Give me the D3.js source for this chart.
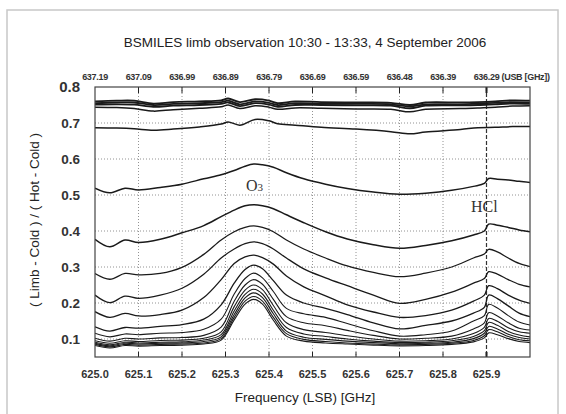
<!DOCTYPE html>
<html><head><meta charset="utf-8">
<script src="https://cdn.jsdelivr.net/npm/d3@7"></script>
<style>body{margin:0;background:#fff}svg{display:block}</style>
</head><body>
<script>
// ---------- data ----------
const xTicks = [625.0,625.1,625.2,625.3,625.4,625.5,625.6,625.7,625.8,625.9];
const xTickLabels = ["625.0","625.1","625.2","625.3","625.4","625.5","625.6","625.7","625.8","625.9"];
const usbLabels = ["637.19","637.09","636.99","636.89","636.79","636.69","636.59","636.48","636.39","636.29"];
const yTicks = [0.1,0.2,0.3,0.4,0.5,0.6,0.7,0.8];

const topFreq = [625.00,625.05,625.09,625.134,625.18,625.24,625.29,625.306,625.333,625.368,625.40,625.42,625.46,625.52,625.60,625.68,625.724,625.76,625.84,625.88,625.92,625.96,626.00];
const topT1 = [0.760,0.762,0.762,0.754,0.758,0.760,0.763,0.768,0.758,0.766,0.762,0.755,0.760,0.758,0.757,0.756,0.750,0.757,0.757,0.758,0.760,0.763,0.762];
const topT2 = [0.755,0.757,0.757,0.750,0.753,0.755,0.758,0.762,0.752,0.760,0.756,0.750,0.755,0.754,0.753,0.752,0.746,0.752,0.752,0.754,0.756,0.758,0.757];
const topT3 = [0.751,0.752,0.751,0.745,0.748,0.750,0.753,0.757,0.747,0.755,0.751,0.745,0.750,0.750,0.749,0.748,0.741,0.748,0.749,0.750,0.752,0.754,0.753];
const topT4 = [0.744,0.743,0.740,0.733,0.737,0.741,0.745,0.750,0.740,0.748,0.744,0.738,0.742,0.741,0.739,0.738,0.731,0.738,0.740,0.742,0.744,0.747,0.748];
const topT5 = [0.687,0.686,0.684,0.680,0.683,0.689,0.697,0.703,0.694,0.710,0.706,0.698,0.694,0.688,0.683,0.676,0.670,0.675,0.682,0.687,0.688,0.690,0.690];

const freq = [625.00,625.034,625.069,625.10,625.15,625.20,625.25,625.29,625.32,625.345,625.365,625.385,625.41,625.44,625.48,625.53,625.58,625.64,625.70,625.76,625.82,625.87,625.895,625.905,625.925,625.95,625.975,626.00];
const c1  = [0.519,0.506,0.519,0.514,0.521,0.530,0.545,0.556,0.568,0.580,0.586,0.584,0.577,0.562,0.545,0.530,0.518,0.508,0.502,0.505,0.513,0.524,0.532,0.546,0.544,0.542,0.538,0.535];
const c2  = [0.377,0.356,0.375,0.368,0.377,0.395,0.415,0.440,0.458,0.470,0.473,0.470,0.462,0.445,0.423,0.398,0.378,0.362,0.352,0.360,0.373,0.389,0.400,0.419,0.416,0.410,0.403,0.398];
const c3  = [0.282,0.266,0.282,0.278,0.282,0.299,0.335,0.375,0.398,0.410,0.414,0.410,0.398,0.375,0.350,0.325,0.303,0.285,0.273,0.283,0.300,0.325,0.336,0.349,0.342,0.325,0.310,0.301];
const c4  = [0.222,0.201,0.219,0.213,0.222,0.241,0.280,0.325,0.350,0.365,0.370,0.365,0.350,0.325,0.295,0.270,0.248,0.222,0.199,0.210,0.230,0.255,0.268,0.287,0.280,0.265,0.252,0.245];
const c5  = [0.176,0.160,0.171,0.164,0.168,0.180,0.215,0.265,0.310,0.328,0.333,0.326,0.308,0.275,0.245,0.220,0.195,0.175,0.160,0.165,0.180,0.205,0.222,0.248,0.240,0.222,0.208,0.199];
const c6  = [0.134,0.122,0.132,0.130,0.135,0.140,0.155,0.195,0.255,0.293,0.305,0.295,0.262,0.222,0.200,0.185,0.168,0.145,0.128,0.138,0.150,0.172,0.188,0.222,0.212,0.192,0.172,0.162];
const c7  = [0.116,0.106,0.114,0.112,0.116,0.118,0.127,0.155,0.225,0.268,0.283,0.270,0.232,0.185,0.170,0.160,0.143,0.123,0.108,0.112,0.122,0.150,0.165,0.196,0.186,0.165,0.147,0.139];
const c8  = [0.102,0.094,0.102,0.100,0.103,0.104,0.110,0.133,0.205,0.250,0.265,0.252,0.210,0.162,0.145,0.137,0.124,0.110,0.100,0.102,0.108,0.128,0.145,0.173,0.164,0.145,0.130,0.125];
const c9  = [0.095,0.088,0.095,0.093,0.096,0.097,0.102,0.120,0.190,0.236,0.250,0.237,0.193,0.145,0.126,0.118,0.109,0.100,0.094,0.095,0.100,0.115,0.132,0.157,0.149,0.131,0.120,0.116];
const c10 = [0.091,0.084,0.091,0.089,0.091,0.092,0.097,0.112,0.178,0.224,0.238,0.225,0.180,0.132,0.114,0.107,0.100,0.094,0.090,0.091,0.095,0.107,0.123,0.146,0.138,0.121,0.111,0.106];
const c11 = [0.088,0.081,0.088,0.086,0.088,0.089,0.093,0.106,0.168,0.214,0.228,0.215,0.170,0.122,0.105,0.099,0.094,0.090,0.087,0.088,0.091,0.101,0.116,0.135,0.128,0.113,0.104,0.100];
const c12 = [0.085,0.078,0.085,0.083,0.085,0.086,0.089,0.101,0.160,0.205,0.218,0.205,0.160,0.115,0.099,0.093,0.089,0.086,0.084,0.085,0.088,0.096,0.109,0.126,0.120,0.107,0.098,0.095];
const c13 = [0.082,0.075,0.082,0.080,0.082,0.083,0.086,0.097,0.153,0.197,0.210,0.197,0.152,0.108,0.094,0.089,0.086,0.083,0.081,0.082,0.085,0.092,0.103,0.117,0.112,0.101,0.093,0.090];

// ---------- layout ----------
const W = 566, H = 414;
const L = 95, R = 530, T = 87, B = 357;
const svg = d3.select("body").append("svg").attr("width", W).attr("height", H)
  .style("font-family", "'Liberation Sans', Arial, sans-serif");

svg.append("rect").attr("x", 7).attr("y", 10).attr("width", 551).attr("height", 420)
  .attr("fill", "none").attr("stroke", "#c8c8c8").attr("stroke-width", 1.5);

const x = d3.scaleLinear().domain([625.0, 626.0]).range([L, R]);
const y = d3.scaleLinear().domain([0.05, 0.8]).range([B, T]);

// gridlines
const g = svg.append("g");
g.selectAll(".vg").data(xTicks.slice(1)).join("line")
  .attr("x1", d => x(d)).attr("x2", d => x(d)).attr("y1", T).attr("y2", B)
  .attr("stroke", d => d === 625.9 ? "#333" : "#777")
  .attr("stroke-width", d => d === 625.9 ? 1.2 : 0.8)
  .attr("stroke-dasharray", d => d === 625.9 ? "4,2" : "1,2");
g.selectAll(".hg").data(yTicks.filter(v => v < 0.8)).join("line")
  .attr("x1", L).attr("x2", R).attr("y1", d => y(d)).attr("y2", d => y(d))
  .attr("stroke", "#777").attr("stroke-width", 0.8).attr("stroke-dasharray", "1,2");

// top ticks
g.selectAll(".tt").data(xTicks.slice(1)).join("line")
  .attr("x1", d => x(d)).attr("x2", d => x(d)).attr("y1", T).attr("y2", T + 6)
  .attr("stroke", "#222").attr("stroke-width", d => d === 625.9 ? 2 : 1);
// bottom ticks
g.selectAll(".bt").data(xTicks.slice(1)).join("line")
  .attr("x1", d => x(d)).attr("x2", d => x(d)).attr("y1", B - 5).attr("y2", B)
  .attr("stroke", "#222").attr("stroke-width", d => d === 625.9 ? 2 : 1);

// curves
svg.append("clipPath").attr("id", "clip").append("rect")
  .attr("x", L).attr("y", T).attr("width", R - L).attr("height", B - T);
const plot = svg.append("g").attr("clip-path", "url(#clip)");

const lineTop = d3.line().x((d, i) => x(topFreq[i])).y(d => y(d)).curve(d3.curveCatmullRom.alpha(0.5));
const lineMain = d3.line().x((d, i) => x(freq[i])).y(d => y(d)).curve(d3.curveCatmullRom.alpha(0.5));

const topSeries = [topT1, topT2, topT3, topT4, topT5];
plot.selectAll(".top").data(topSeries).join("path")
  .attr("d", lineTop).attr("fill", "none").attr("stroke", "#1a1a1a")
  .attr("stroke-width", (d, i) => i < 3 ? 1.8 : 1.5);

const mainSeries = [c1, c2, c3, c4, c5, c6, c7, c8, c9, c10, c11, c12, c13];
plot.selectAll(".main").data(mainSeries).join("path")
  .attr("d", lineMain).attr("fill", "none").attr("stroke", "#1a1a1a")
  .attr("stroke-width", (d, i) => i < 2 ? 1.5 : (i < 6 ? 1.3 : 1.1));

// frame
svg.append("rect").attr("x", L).attr("y", T).attr("width", R - L).attr("height", B - T)
  .attr("fill", "none").attr("stroke", "#444").attr("stroke-width", 1.2);

// y labels
svg.selectAll(".yl").data(yTicks).join("text")
  .attr("x", 80).attr("y", d => y(d)).attr("dy", "0.36em")
  .attr("text-anchor", "end").attr("font-weight", "bold")
  .attr("font-size", d => d === 0.8 ? 15 : 13.5).attr("fill", "#333")
  .text(d => d.toFixed(1));

// bottom labels
svg.selectAll(".xl").data(xTicks).join("text")
  .attr("x", d => x(d)).attr("y", 378).attr("text-anchor", "middle")
  .attr("font-weight", "bold").attr("font-size", 11).attr("fill", "#333")
  .text((d, i) => xTickLabels[i]);

// top labels
svg.selectAll(".ul").data(xTicks).join("text")
  .attr("x", d => x(d)).attr("y", 80).attr("text-anchor", "middle")
  .attr("font-weight", "bold").attr("font-size", 9).attr("fill", "#333")
  .attr("letter-spacing", "-0.3")
  .text((d, i) => usbLabels[i]);
svg.append("text").attr("x", x(625.9) + 15).attr("y", 80)
  .attr("font-weight", "bold").attr("font-size", 9).attr("fill", "#333")
  .attr("letter-spacing", "-0.3").text("(USB [GHz])");

// titles
svg.append("text").attr("x", 305).attr("y", 47).attr("text-anchor", "middle")
  .attr("font-size", 13.5).attr("fill", "#222")
  .text("BSMILES limb observation 10:30 - 13:33, 4 September 2006");
svg.append("text").attr("x", 305).attr("y", 402).attr("text-anchor", "middle")
  .attr("font-size", 13.5).attr("fill", "#222").text("Frequency (LSB) [GHz]");
svg.append("text").attr("transform", "translate(39,220) rotate(-90)")
  .attr("text-anchor", "middle").attr("font-size", 13.5).attr("fill", "#222")
  .text("( Limb - Cold ) / ( Hot - Cold )");

// annotations
const o3 = svg.append("text").attr("x", 246).attr("y", 191)
  .attr("font-family", "'Liberation Serif', 'DejaVu Serif', serif").attr("font-size", 16).attr("fill", "#333");
o3.append("tspan").text("O");
o3.append("tspan").attr("font-size", 11).text("3");
svg.append("text").attr("x", 471).attr("y", 212)
  .attr("font-family", "'Liberation Serif', 'DejaVu Serif', serif").attr("font-size", 16).attr("fill", "#333")
  .text("HCl");
</script>
</body></html>
